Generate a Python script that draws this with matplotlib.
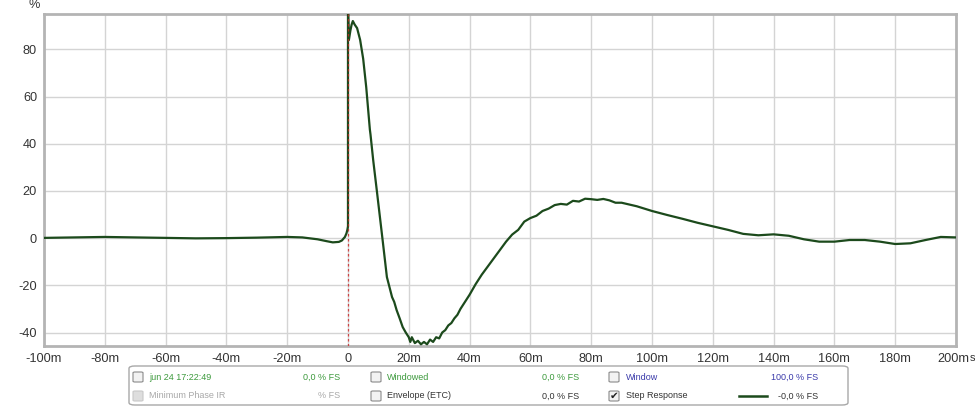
import matplotlib
matplotlib.use("Agg")
from matplotlib import pyplot as plt
from matplotlib.patches import FancyBboxPatch
from matplotlib.lines import Line2D
import matplotlib.transforms as mtransforms

plt.rcParams['font.family'] = ['Liberation Sans', 'DejaVu Sans']
plt.rcParams['axes.unicode_minus'] = False

# step response, time in ms, value in %
t_ms = [-100, -90, -80, -70, -60, -50, -40, -30, -20, -15, -10, -7, -5, -3, -2, -1, -0.5, -0.2, 0, 0,
        0.3, 0.8, 1.2, 1.6, 2.2, 3, 4, 5, 6, 6.8, 7.2, 7.4, 8.3, 9.5, 10.5, 11.5, 12.8, 13.5, 14.5,
        15.2, 16, 17, 18, 19, 20, 20.5, 21, 22, 23, 24, 25, 26, 27, 28, 29, 30, 31, 32, 33, 34, 35,
        36, 37, 38, 40, 42, 44, 46, 48, 50, 52, 54, 56, 58, 60, 62, 64, 66, 68, 70, 72, 74, 76, 78,
        80, 82, 84, 86, 88, 90, 95, 100, 105, 110, 115, 120, 125, 130, 135, 140, 145, 150, 155, 160,
        165, 170, 175, 180, 185, 190, 195, 200]
step = [0.1, 0.3, 0.5, 0.3, 0.1, -0.1, 0.0, 0.2, 0.5, 0.3, -0.5, -1.3, -1.8, -1.6, -1.0, 0.5, 2, 3.5, 5, 100,
        84, 88, 90.5, 92, 90.5, 89, 84, 76, 64, 52, 46, 44, 33, 20, 9, -2, -16.5, -20, -25,
        -27, -30.5, -34, -37.7, -40, -42, -44, -42, -44.5, -43.5, -45, -44, -45, -43, -44, -42, -42.5, -40, -39, -37, -36, -34,
        -32.5, -30, -28, -24, -19.5, -15.5, -12, -8.5, -5, -1.5, 1.5, 3.5, 7, 8.5, 9.5, 11.5, 12.5, 14, 14.5, 14.2, 15.8, 15.5, 16.7,
        16.5, 16.2, 16.6, 16, 15, 15, 13.5, 11.5, 9.8, 8.2, 6.5, 5, 3.5, 1.8, 1.2, 1.6, 1.0, -0.5, -1.5, -1.5,
        -0.8, -0.8, -1.5, -2.5, -2.2, -0.8, 0.5, 0.3]

x_ticks = [-100, -80, -60, -40, -20, 0, 20, 40, 60, 80, 100, 120, 140, 160, 180, 200]
x_labels = ['-100m', '-80m', '-60m', '-40m', '-20m', '0', '20m', '40m', '60m', '80m',
            '100m', '120m', '140m', '160m', '180m', '200m']
y_ticks = [-40, -20, 0, 20, 40, 60, 80]

fig = plt.figure(figsize=(9.75, 4.07), dpi=100)
ax = fig.add_axes([0.0451, 0.150, 0.9354, 0.8157])

ax.plot(t_ms, step, color='#1c4a1c', lw=1.6, zorder=3)
ax.axvline(0, color='#cc2222', lw=0.9, ls=(0, (2, 2)), zorder=4, alpha=0.8)

ax.set_xlim(-100, 200)
ax.set_ylim(-45.7, 95)
ax.set_xticks(x_ticks)
ax.set_xticklabels(x_labels)
ax.set_yticks(y_ticks)
ax.grid(True, color='#d4d4d4', lw=1)
ax.set_axisbelow(True)
ax.tick_params(length=0, labelsize=9.2, labelcolor='#333333', pad=5)
for s in ax.spines.values():
    s.set_color('#b4b4b4')
    s.set_linewidth(2)

# last tick label nudged left a little so the unit fits beside it
last = ax.get_xticklabels()[-1]
last.set_transform(last.get_transform() + mtransforms.ScaledTranslation(-2.5 / 100, 0, fig.dpi_scale_trans))

fig.text(34 / 975, 1 - 5 / 407, '%', fontsize=9.2, color='#333333', ha='center', va='center')
fig.text(969.5 / 975, 1 - 361 / 407, 's', fontsize=8, color='#333333', ha='left', va='baseline')

# legend panel
W, H = 975.0, 407.0
def fx(px):
    return px / W
def fy(py):
    return 1 - py / H

box = FancyBboxPatch((fx(129), fy(405)), fx(848) - fx(129), fy(366) - fy(405),
                     boxstyle='round,pad=0,rounding_size=0.006', transform=fig.transFigure,
                     facecolor='white', edgecolor='#a8a8a8', lw=1)
fig.patches.append(box)

def checkbox(px, py, checked=False, disabled=False):
    ec = '#c8c8c8' if disabled else '#8a8a8a'
    fc = '#dedede' if disabled else '#f2f2f2'
    cb = FancyBboxPatch((fx(px), fy(py + 5)), 10 / W, 10 / H,
                        boxstyle='round,pad=0,rounding_size=0.002', transform=fig.transFigure,
                        facecolor=fc, edgecolor=ec, lw=0.8)
    fig.patches.append(cb)
    if checked:
        fig.text(fx(px + 5), fy(py), '\u2714', fontsize=7.5, color='#222222',
                 ha='center', va='center', family=['DejaVu Sans'])

green = '#3d9a3d'
blue = '#3a3aaa'
grey = '#a8a8a8'
dark = '#333333'
r1, r2 = 377, 396
fs = 6.5

checkbox(133, r1)
fig.text(fx(149), fy(r1), 'jun 24 17:22:49', fontsize=fs, color=green, va='center')
fig.text(fx(340), fy(r1), '0,0 % FS', fontsize=fs, color=green, va='center', ha='right')
checkbox(371, r1)
fig.text(fx(387), fy(r1), 'Windowed', fontsize=fs, color=green, va='center')
fig.text(fx(579), fy(r1), '0,0 % FS', fontsize=fs, color=green, va='center', ha='right')
checkbox(609, r1)
fig.text(fx(626), fy(r1), 'Window', fontsize=fs, color=blue, va='center')
fig.text(fx(818), fy(r1), '100,0 % FS', fontsize=fs, color=blue, va='center', ha='right')

checkbox(133, r2, disabled=True)
fig.text(fx(149), fy(r2), 'Minimum Phase IR', fontsize=fs, color=grey, va='center')
fig.text(fx(340), fy(r2), '% FS', fontsize=fs, color=grey, va='center', ha='right')
checkbox(371, r2)
fig.text(fx(387), fy(r2), 'Envelope (ETC)', fontsize=fs, color=dark, va='center')
fig.text(fx(579), fy(r2), '0,0 % FS', fontsize=fs, color=dark, va='center', ha='right')
checkbox(609, r2, checked=True)
fig.text(fx(626), fy(r2), 'Step Response', fontsize=fs, color=dark, va='center')
fig.lines.append(Line2D([fx(739), fx(767)], [fy(r2), fy(r2)], transform=fig.transFigure,
                        color='#1c4a1c', lw=1.8))
fig.text(fx(818), fy(r2), '-0,0 % FS', fontsize=fs, color=dark, va='center', ha='right')

fig.savefig('out.png', dpi=100)
